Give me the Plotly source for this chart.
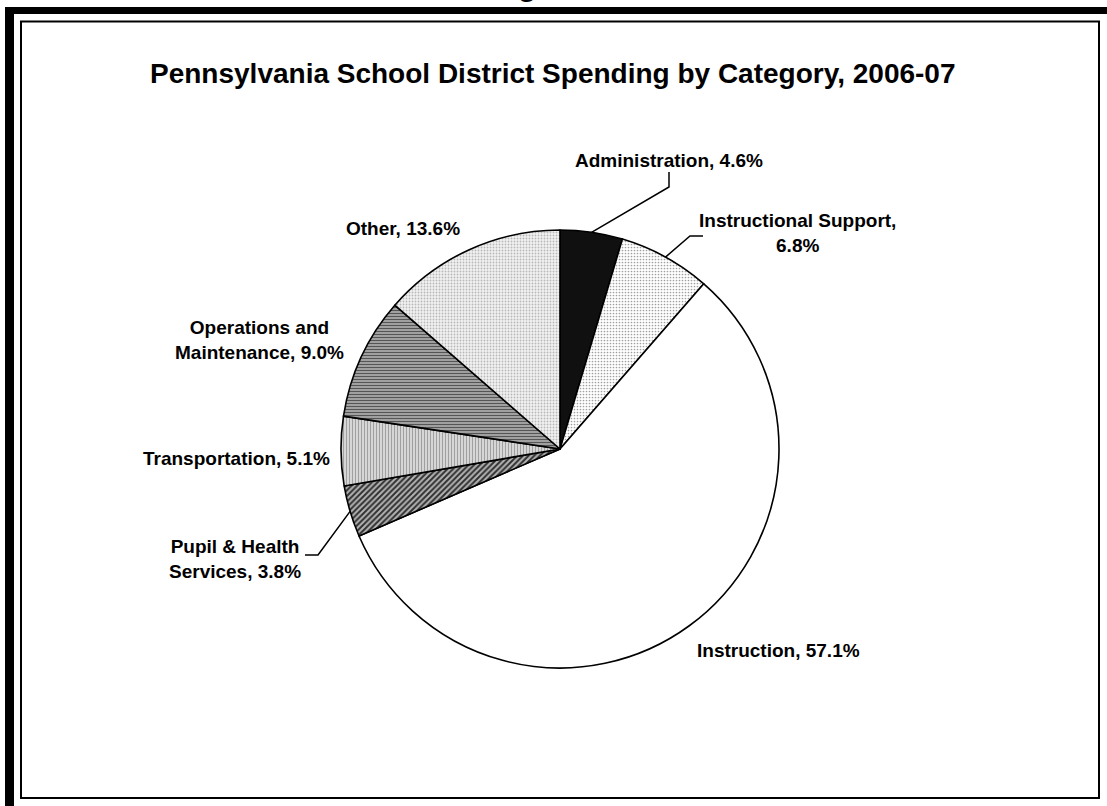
import math
import plotly.graph_objects as go

# Spending shares, clockwise from 12 o'clock
categories = [
    "Administration",
    "Instructional Support",
    "Instruction",
    "Pupil & Health Services",
    "Transportation",
    "Operations and Maintenance",
    "Other",
]
shares = [4.6, 6.8, 57.1, 3.8, 5.1, 9.0, 13.6]

# Label text (with line breaks) for each category
label_names = [
    "Administration",
    "Instructional Support,<br>",
    "Instruction",
    "Pupil & Health<br>Services",
    "Transportation",
    "Operations and<br>Maintenance",
    "Other",
]

W, H = 1107, 806
CX, CY, R = 560, 449, 219  # pie centre and radius in pixels

FONT = "Liberation Sans, Arial, sans-serif"

fills = ["#101010", "#ffffff", "#ffffff", "#a8a8a8", "#d4d4d4", "#a0a0a0", "#eeeeee"]
patterns = [
    dict(shape="", fgcolor="#000000", bgcolor="#101010"),
    dict(shape=".", fgcolor="#a0a0a0", bgcolor="#ffffff", size=3, solidity=0.25),
    dict(shape="", fgcolor="#ffffff", bgcolor="#ffffff"),
    dict(shape="/", fgcolor="#303030", bgcolor="#b4b4b4", size=4, solidity=0.5),
    dict(shape="|", fgcolor="#a0a0a0", bgcolor="#dcdcdc", size=3, solidity=0.4),
    dict(shape="-", fgcolor="#555555", bgcolor="#b0b0b0", size=3, solidity=0.45),
    dict(shape=".", fgcolor="#b8b8b8", bgcolor="#f2f2f2", size=3, solidity=0.3),
]


def px(x):
    return x / W


def py(y):
    return 1 - y / H


fig = go.Figure(
    go.Pie(
        labels=categories,
        values=shares,
        sort=False,
        direction="clockwise",
        rotation=0,
        textinfo="none",
        hoverinfo="label+percent",
        marker=dict(
            colors=fills,
            line=dict(color="#000000", width=1.6),
            pattern=dict(
                shape=[p["shape"] for p in patterns],
                fgcolor=[p["fgcolor"] for p in patterns],
                bgcolor=[p["bgcolor"] for p in patterns],
                size=[p.get("size", 4) for p in patterns],
                solidity=[p.get("solidity", 0.3) for p in patterns],
            ),
        ),
        domain=dict(x=[px(CX - R), px(CX + R)], y=[py(CY + R), py(CY - R)]),
        showlegend=False,
    )
)

# Label anchor positions (pixel centres) and optional leader elbows
label_pos = [
    (669, 160),
    (797, 233),
    (778, 650),
    (235, 559),
    (236, 458),
    (259, 340),
    (403, 228),
]
leaders = {
    0: [(669, 187), (669, 172)],
    1: [(690, 236), (703, 236)],
    3: [(318, 555), (305, 555)],
}

annotations = []
shapes = []
total = sum(shares)
cum = 0.0
for i, (name, v) in enumerate(zip(label_names, shares)):
    mid = (cum + v / 2) / total * 2 * math.pi
    cum += v
    if name.endswith("<br>"):
        text = f"{name}{v:.1f}%"
    else:
        text = f"{name}, {v:.1f}%"
    lx, ly = label_pos[i]
    annotations.append(dict(
        x=px(lx), y=py(ly), xref="paper", yref="paper",
        text=text, showarrow=False, align="center",
        xanchor="center", yanchor="middle",
        font=dict(family=FONT, size=19, color="#000000", weight="bold"),
    ))
    if i in leaders:
        ex = CX + R * math.sin(mid)
        ey = CY - R * math.cos(mid)
        pts = [(ex, ey)] + leaders[i]
        path = "M " + " L ".join(f"{px(a)},{py(b)}" for a, b in pts)
        shapes.append(dict(type="path", xref="paper", yref="paper", path=path,
                           line=dict(color="#000000", width=1.5)))

# Chart title
annotations.append(dict(
    x=px(553), y=py(74), xref="paper", yref="paper",
    text="Pennsylvania School District Spending by Category, 2006-07",
    showarrow=False, xanchor="center", yanchor="middle",
    font=dict(family=FONT, size=28, color="#000000", weight="bold"),
))

# Descender of the page heading above the frame, clipped by the top edge
annotations.append(dict(
    x=px(527), y=py(3.8), xref="paper", yref="paper",
    text="g", showarrow=False, xanchor="center", yanchor="bottom",
    font=dict(family=FONT, size=30, color="#000000", weight="bold"),
))

# Frame: thick outer bars on top and left, thin inner box
shapes += [
    dict(type="rect", xref="paper", yref="paper", x0=px(5), x1=px(14), y0=py(806), y1=py(7),
         fillcolor="#000000", line=dict(width=0), layer="above"),
    dict(type="rect", xref="paper", yref="paper", x0=px(5), x1=px(1107), y0=py(14), y1=py(7),
         fillcolor="#000000", line=dict(width=0), layer="above"),
    dict(type="rect", xref="paper", yref="paper", x0=px(21), x1=px(1099), y0=py(798), y1=py(21.5),
         fillcolor="rgba(0,0,0,0)", line=dict(color="#000000", width=2), layer="above"),
]

fig.update_layout(
    width=W, height=H,
    margin=dict(l=0, r=0, t=0, b=0),
    paper_bgcolor="#ffffff",
    plot_bgcolor="#ffffff",
    annotations=annotations,
    shapes=shapes,
)

fig.write_html("out.html")
